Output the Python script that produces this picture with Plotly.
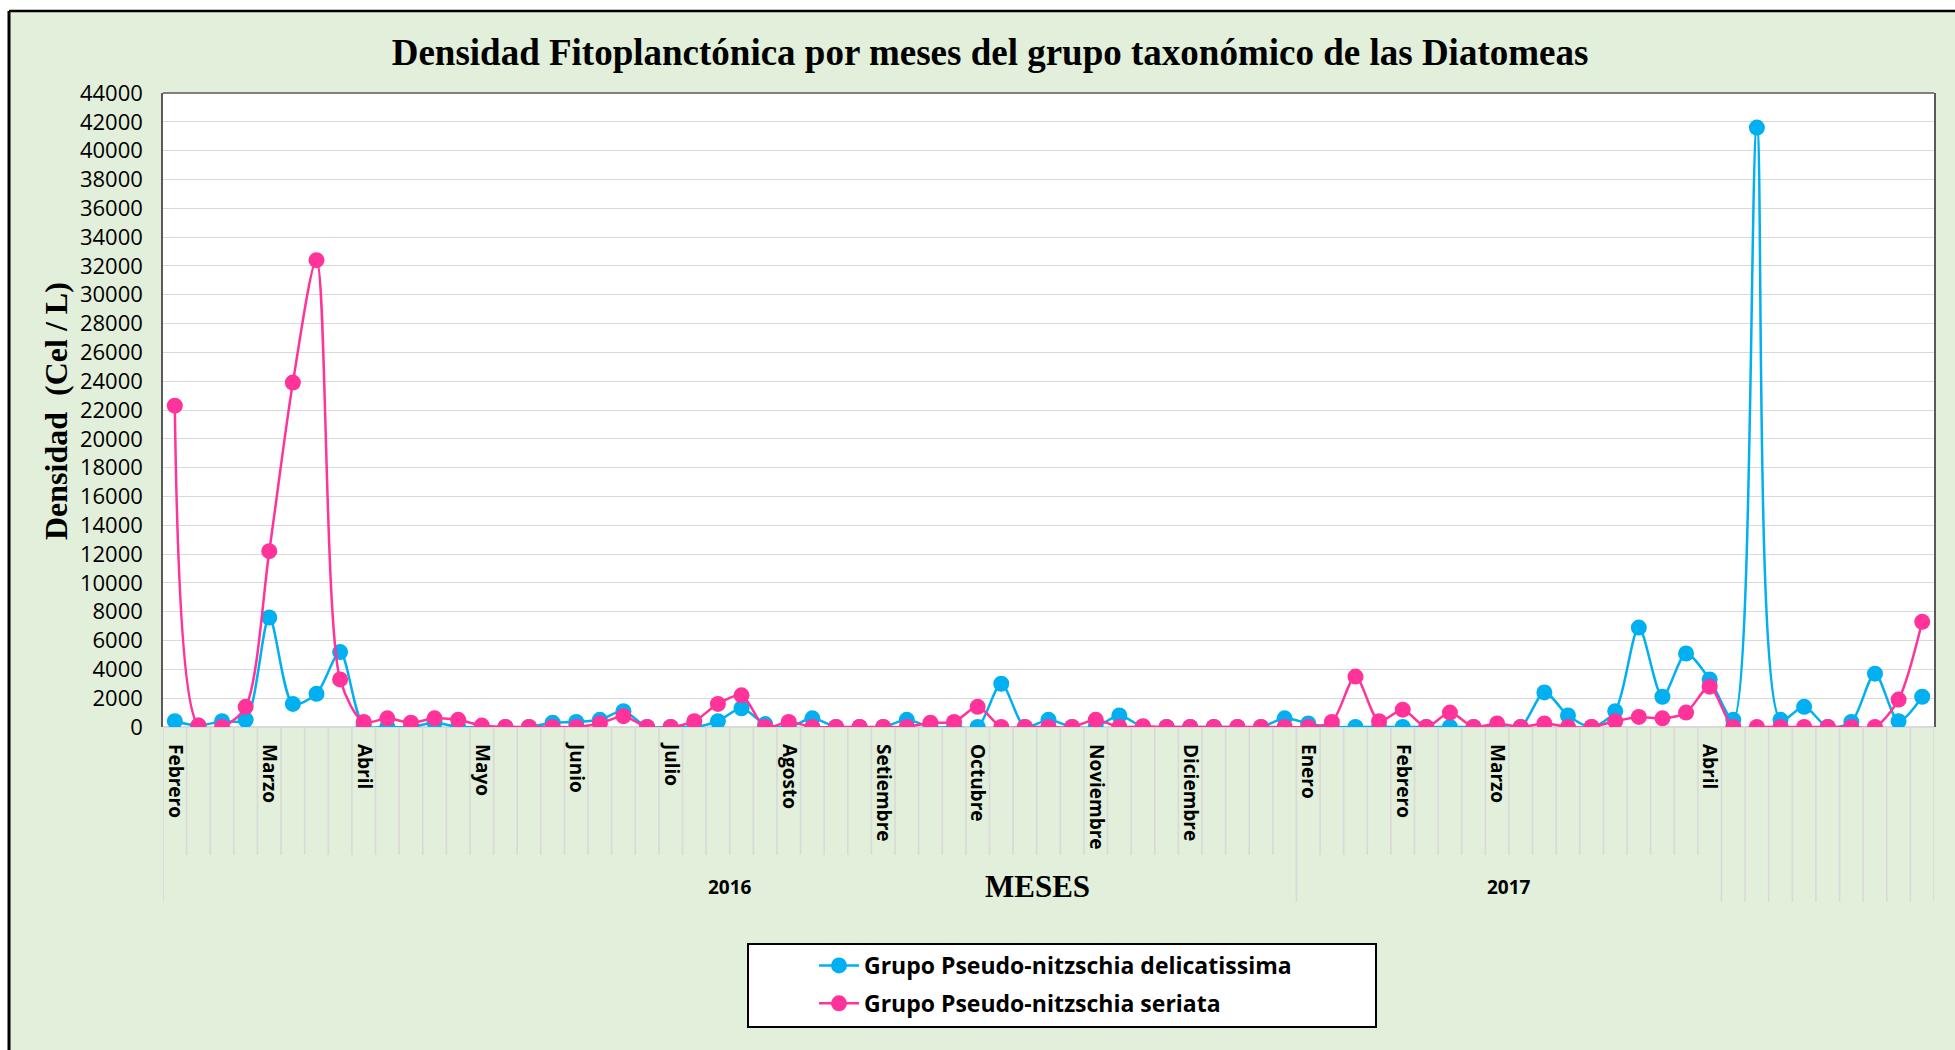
import plotly.graph_objects as go

# --- data ---------------------------------------------------------------
meses = ["Febrero", "", "", "", "Marzo", "", "", "", "Abril", "", "", "", "",
         "Mayo", "", "", "", "Junio", "", "", "", "Julio", "", "", "", "",
         "Agosto", "", "", "", "Setiembre", "", "", "", "Octubre", "", "", "", "",
         "Noviembre", "", "", "", "Diciembre", "", "", "", "",
         "Enero", "", "", "", "Febrero", "", "", "", "Marzo", "", "", "", "", "", "", "", "",
         "Abril", "", "", "", "", "", "", "", "", ""]
anios = ["2016"] * 48 + ["2017"] * 18 + [""] * 9

delicatissima = [400, 100, 400, 500, 7600, 1600, 2300, 5200, 100, 0, 0, 300, 0,
                 0, 0, 0, 300, 350, 500, 1100, 0, 0, 0, 400, 1300, 200,
                 0, 600, 0, 0, 0, 500, 0, 0, 0, 3000, 0, 500, 0,
                 0, 800, 0, 0, 0, 0, 0, 0, 600,
                 250, 0, 0, 0, 0, 0, 0, 0, 0, 0, 2400, 800, 0, 1100, 6900, 2100, 5100,
                 3300, 500, 41600, 500, 1400, 0, 350, 3700, 400, 2100]
seriata = [22300, 100, 0, 1400, 12200, 23900, 32400, 3300, 350, 600, 300, 600, 500,
           100, 0, 0, 0, 0, 250, 750, 0, 0, 400, 1600, 2200, 0,
           350, 0, 0, 0, 0, 0, 300, 350, 1400, 0, 0, 0, 0,
           500, 0, 50, 0, 0, 0, 0, 0, 0,
           0, 350, 3500, 400, 1200, 0, 1000, 0, 250, 0, 250, 0, 0, 400, 700, 600, 1000,
           2800, 0, 0, 0, 0, 0, 0, 0, 1900, 7300]

n = len(meses)
idx = list(range(n))

# --- geometry (window pixels) ---------------------------------------------
W_FIG, H_FIG = 1955, 1050
PLOT_L, PLOT_R, PLOT_T, PLOT_B = 163, 1934, 93, 727
L, R, T, B = PLOT_L, W_FIG - PLOT_R, PLOT_T, H_FIG - PLOT_B
PW, PH = W_FIG - L - R, H_FIG - T - B


def fx(px):
    return (px - L) / PW


def fy(py):
    return (PLOT_B - py) / PH


BLUE = "#00B0F0"
PINK = "#FF3399"
GRID = "#D9D9D9"
SANS = "Open Sans, Liberation Sans, sans-serif"
SERIF = "Liberation Serif, Times New Roman, serif"

fig = go.Figure()
fig.add_trace(go.Scatter(
    x=idx, y=delicatissima, mode="lines+markers",
    name="Grupo Pseudo-nitzschia delicatissima", legendgroup="a",
    line=dict(color=BLUE, width=2.5, shape="spline", smoothing=0.8),
    marker=dict(color=BLUE, size=16)))
fig.add_trace(go.Scatter(
    x=idx, y=seriata, mode="lines+markers",
    name="Grupo Pseudo-nitzschia seriata", legendgroup="b",
    line=dict(color=PINK, width=2.5, shape="spline", smoothing=0.8),
    marker=dict(color=PINK, size=16)))

shapes = []
# outer frame: thin white strip top/left + black border
shapes.append(dict(type="rect", xref="paper", yref="paper", x0=fx(0), x1=fx(W_FIG),
                   y0=fy(11), y1=fy(0), fillcolor="white", line_width=0, layer="below"))
shapes.append(dict(type="rect", xref="paper", yref="paper", x0=fx(0), x1=fx(9),
                   y0=fy(H_FIG), y1=fy(0), fillcolor="white", line_width=0, layer="below"))
shapes.append(dict(type="line", xref="paper", yref="paper", x0=fx(9), x1=fx(W_FIG),
                   y0=fy(11), y1=fy(11), line=dict(color="black", width=2.5)))
shapes.append(dict(type="line", xref="paper", yref="paper", x0=fx(9), x1=fx(9),
                   y0=fy(11), y1=fy(H_FIG), line=dict(color="black", width=3)))
# plot area top border
shapes.append(dict(type="line", xref="paper", yref="paper", x0=0, x1=1, y0=1, y1=1,
                   line=dict(color="#595959", width=1.5)))

# category separators (short) and group separators (long)
group_edges = [0]
for i in range(1, n):
    if anios[i] != anios[i - 1] or anios[i] == "":
        group_edges.append(i)
group_edges.append(n)
for i in range(n + 1):
    long_line = i in group_edges
    shapes.append(dict(type="line", xref="x", yref="paper", x0=i - 0.5, x1=i - 0.5,
                       y0=0, y1=fy(902 if long_line else 855),
                       line=dict(color=GRID, width=1.6), layer="below"))

# legend box
shapes.append(dict(type="rect", xref="paper", yref="paper", x0=fx(748), x1=fx(1376),
                   y0=fy(1027), y1=fy(944), fillcolor="white",
                   line=dict(color="black", width=2)))

annotations = []
# year labels
for g in range(len(group_edges) - 1):
    a, b = group_edges[g], group_edges[g + 1]
    if anios[a]:
        annotations.append(dict(x=(a + b - 1) / 2, y=fy(887), xref="x", yref="paper",
                                xanchor="center", yanchor="middle",
                                text="<b>%s</b>" % anios[a], showarrow=False,
                                font=dict(family=SANS, size=19, color="black")))
annotations.append(dict(x=fx(1037), y=fy(886), xref="paper", yref="paper",
                        xanchor="center", yanchor="middle",
                        text="<b>MESES</b>", showarrow=False,
                        font=dict(family=SERIF, size=31, color="black")))
annotations.append(dict(x=fx(56), y=fy(411), xref="paper", yref="paper",
                        xanchor="center", yanchor="middle",
                        text="<b>Densidad  (Cel / L)</b>", showarrow=False, textangle=-90,
                        font=dict(family=SERIF, size=32, color="black")))

tick_pos = [i for i, m in enumerate(meses) if m]
tick_txt = ["<b>%s</b>" % meses[i] for i in tick_pos]

fig.update_layout(
    width=W_FIG, height=H_FIG,
    margin=dict(l=L, r=R, t=T, b=B),
    paper_bgcolor="#E2EFDA", plot_bgcolor="white",
    title=dict(text="<b>Densidad Fitoplanctónica por meses del grupo taxonómico de las Diatomeas</b>",
               xref="paper", x=fx(990), xanchor="center",
               y=1 - 52 / H_FIG, yanchor="middle",
               font=dict(family=SERIF, size=37, color="black")),
    xaxis=dict(range=[-0.5, n - 0.5], tickmode="array", tickvals=tick_pos, ticktext=tick_txt,
               tickangle=90, ticks="", showgrid=False, zeroline=False, showline=False,
               ticklabelstandoff=16, tickfont=dict(family=SANS, size=19, color="black")),
    yaxis=dict(range=[0, 44000], dtick=2000, tickformat="d", showgrid=True, gridcolor=GRID,
               gridwidth=1.3, zeroline=True, zerolinecolor=GRID, zerolinewidth=1.6,
               showline=True, linecolor="#595959", linewidth=1.5, mirror=True,
               ticks="", ticklabelstandoff=14,
               tickfont=dict(family=SANS, size=22, color="black")),
    shapes=shapes, annotations=annotations,
    showlegend=True,
    legend=dict(x=fx(814), y=fy(944), xanchor="left", yanchor="top",
                bgcolor="rgba(0,0,0,0)", borderwidth=0, traceorder="grouped",
                tracegroupgap=5,
                font=dict(family=SANS, size=23, color="black", weight="bold"),
                itemwidth=40),
)

# page body margin off so the figure fills the window exactly
fig.write_html("out.html", config={"displayModeBar": False},
               post_script="document.body.style.margin = '0';")
